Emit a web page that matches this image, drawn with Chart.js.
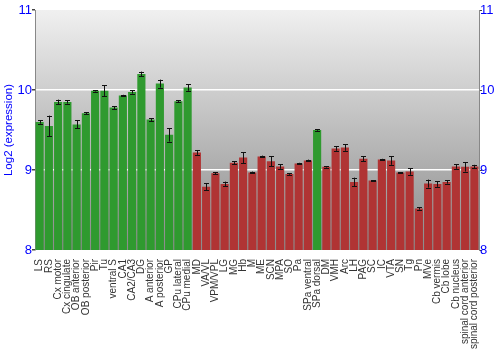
<!DOCTYPE html>
<html>
<head>
<meta charset="utf-8">
<script src="https://cdn.jsdelivr.net/npm/chart.js@4.4.1/dist/chart.umd.min.js"></script>
<style>
  html, body { margin: 0; padding: 0; background: #fff; }
  #wrap { width: 500px; height: 350px; }
</style>
</head>
<body>
<div id="wrap"><canvas id="chart" width="500" height="350"></canvas></div>
<script>
const regions = ['LS', 'RS', 'Cx motor', 'Cx cingulate', 'OB anterior', 'OB posterior', 'Pir', 'Tu',
  'ventral S', 'CA1', 'CA2/CA3', 'DG', 'A anterior', 'A posterior', 'GP', 'CPu lateral', 'CPu medial',
  'MD', 'VA/VL', 'VPM/VPL', 'LG', 'MG', 'Hb', 'M', 'ME', 'SCN', 'MPA', 'SO', 'Pa', 'SPa ventral',
  'SPa dorsal', 'DM', 'VMH', 'Arc', 'LH', 'PAG', 'SC', 'IC', 'VTA', 'SN', 'Tg', 'Pn', 'MVe',
  'Cb vermis', 'Cb lobe', 'Cb nucleus', 'spinal cord anterior', 'spinal cord posterior'];
const expression = [9.60, 9.55, 9.85, 9.85, 9.57, 9.71, 9.99, 9.99, 9.78, 9.93, 9.975, 10.20, 9.63, 10.08, 9.44, 9.86, 10.03,
  9.22, 8.79, 8.96, 8.825, 9.09, 9.155, 8.97, 9.17, 9.11, 9.045, 8.95, 9.08, 9.12,
  9.50, 9.04, 9.27, 9.28, 8.85, 9.14, 8.87, 9.13, 9.12, 8.97, 8.98, 8.52, 8.83,
  8.825, 8.85, 9.045, 9.04, 9.045];
const stdErr = [0.02, 0.13, 0.03, 0.02, 0.05, 0.01, 0.01, 0.07, 0.02, 0.01, 0.02, 0.03, 0.02, 0.05, 0.085, 0.01, 0.04,
  0.03, 0.045, 0.01, 0.03, 0.02, 0.07, 0.01, 0.01, 0.06, 0.03, 0.01, 0.01, 0.01,
  0.01, 0.01, 0.03, 0.04, 0.055, 0.03, 0.005, 0.01, 0.055, 0.005, 0.04, 0.015, 0.05,
  0.035, 0.02, 0.03, 0.06, 0.02];
// g = highlighted (green), r = other (red)
const barGroup = ['g', 'g', 'g', 'g', 'g', 'g', 'g', 'g', 'g', 'g', 'g', 'g', 'g', 'g', 'g', 'g', 'g',
  'r', 'r', 'r', 'r', 'r', 'r', 'r', 'r', 'r', 'r', 'r', 'r', 'r',
  'g', 'r', 'r', 'r', 'r', 'r', 'r', 'r', 'r', 'r', 'r', 'r', 'r',
  'r', 'r', 'r', 'r', 'r'];
const yTicks = [8, 9, 10, 11];

const shades = {
  g: ['#1b6e1b', '#3fb03f', '#2f9a2f', '#1f701f'],
  r: ['#7e1c1c', '#c44747', '#b03434', '#821f1f']
};

function barFill(ctx) {
  const chart = ctx.chart;
  const el = ctx.element;
  if (!chart.chartArea || !el || !el.width) return shades[barGroup[ctx.dataIndex]][2];
  const left = el.x - el.width / 2;
  const g = chart.ctx.createLinearGradient(left, 0, left + el.width, 0);
  const s = shades[barGroup[ctx.dataIndex]];
  g.addColorStop(0, s[0]);
  g.addColorStop(0.35, s[1]);
  g.addColorStop(0.7, s[2]);
  g.addColorStop(1, s[3]);
  return g;
}

const plotBackground = {
  id: 'plotBackground',
  beforeDraw(chart) {
    const { ctx, chartArea: a } = chart;
    const g = ctx.createLinearGradient(0, a.top, 0, a.bottom);
    g.addColorStop(0, '#f0f0f0');
    g.addColorStop(1, '#8a8a8a');
    ctx.save();
    ctx.fillStyle = g;
    ctx.fillRect(a.left, a.top, a.right - a.left, a.bottom - a.top);
    ctx.restore();
  }
};

const errorBars = {
  id: 'errorBars',
  afterDatasetsDraw(chart) {
    const ctx = chart.ctx;
    const y = chart.scales.y;
    const meta = chart.getDatasetMeta(0);
    ctx.save();
    ctx.strokeStyle = '#111';
    ctx.lineWidth = 1;
    meta.data.forEach((bar, i) => {
      const x = Math.round(bar.x) + 0.5;
      const hi = y.getPixelForValue(expression[i] + stdErr[i]);
      const lo = y.getPixelForValue(expression[i] - stdErr[i]);
      ctx.beginPath();
      ctx.moveTo(x, hi); ctx.lineTo(x, lo);
      ctx.moveTo(x - 2.5, Math.round(hi) + 0.5); ctx.lineTo(x + 2.5, Math.round(hi) + 0.5);
      ctx.moveTo(x - 2.5, Math.round(lo) + 0.5); ctx.lineTo(x + 2.5, Math.round(lo) + 0.5);
      ctx.stroke();
    });
    ctx.restore();
  }
};

const tickFont = { family: 'Liberation Sans', size: 13 };

new Chart(document.getElementById('chart'), {
  type: 'bar',
  data: {
    labels: regions,
    datasets: [{
      data: expression,
      backgroundColor: barFill,
      borderWidth: 0,
      barPercentage: 0.88,
      categoryPercentage: 1.0
    }]
  },
  options: {
    responsive: false,
    animation: false,
    layout: { padding: { top: 10, right: 0, left: 0, bottom: 0 } },
    plugins: { legend: { display: false }, tooltip: { enabled: false } },
    scales: {
      x: {
        grid: { display: false },
        border: { display: false },
        ticks: {
          color: '#333',
          font: { family: 'Liberation Sans', size: 10 },
          minRotation: 90,
          maxRotation: 90,
          autoSkip: false,
          padding: 1
        },
        afterFit(scale) { scale.height = 100; }
      },
      y: {
        min: yTicks[0],
        max: yTicks[yTicks.length - 1],
        afterBuildTicks(scale) { scale.ticks = yTicks.map(v => ({ value: v })); },
        ticks: { color: '#0000ff', font: tickFont, padding: 0 },
        border: { color: '#888', width: 1 },
        grid: {
          color: c => (c.tick && (c.tick.value === 9 || c.tick.value === 10)) ? '#ffffff' : 'rgba(0,0,0,0)',
          lineWidth: 1.5,
          tickColor: '#444',
          tickLength: 3
        },
        title: {
          display: true,
          text: 'Log2 (expression)',
          color: '#0000ff',
          font: { family: 'Liberation Sans', size: 11.5 },
          padding: { top: 2, bottom: 0 }
        },
        afterFit(scale) { scale.width = 35; }
      },
      y2: {
        position: 'right',
        min: yTicks[0],
        max: yTicks[yTicks.length - 1],
        afterBuildTicks(scale) { scale.ticks = yTicks.map(v => ({ value: v })); },
        ticks: { color: '#0000ff', font: tickFont, padding: -2 },
        border: { color: '#888', width: 1 },
        grid: { drawOnChartArea: false, tickColor: '#444', tickLength: 3 },
        afterFit(scale) { scale.width = 21; }
      }
    }
  },
  plugins: [plotBackground, errorBars]
});
</script>
</body>
</html>
